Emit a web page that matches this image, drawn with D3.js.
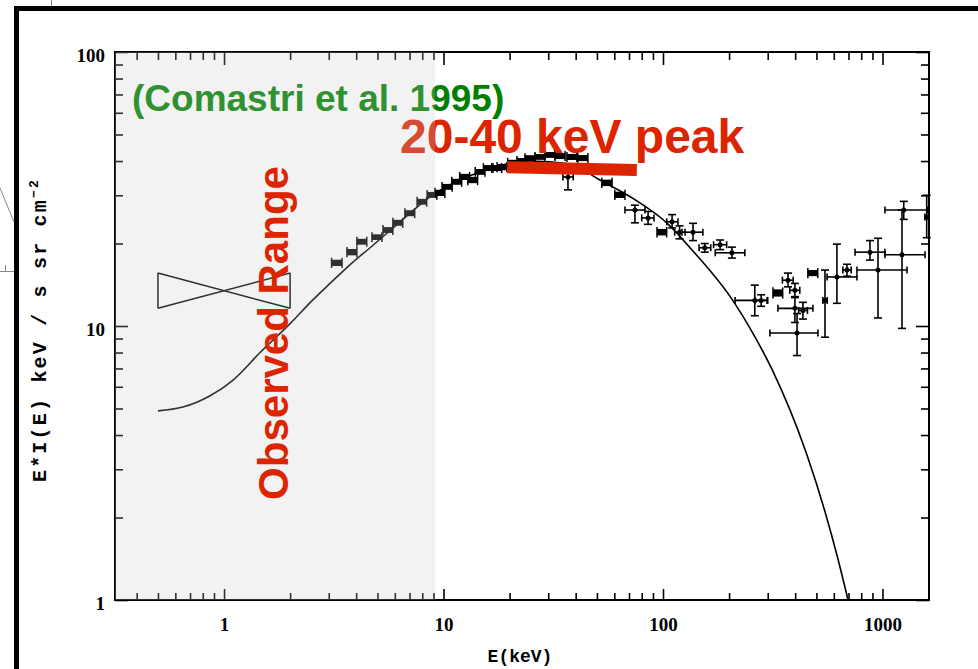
<!DOCTYPE html>
<html>
<head>
<meta charset="utf-8">
<script src="https://cdn.jsdelivr.net/npm/d3@7"></script>
<style>
  body { margin: 0; background: #fff; }
</style>
</head>
<body>
<svg id="chart" width="978" height="669"></svg>
<script>
(function() {
  const INK = "#000";
  const RED = "#dc2400";
  const GREEN = "#008000";

  // model spectrum: energy (keV) and E*I(E)
  const modelE = [0.5, 0.65, 0.86, 1.10, 1.46, 2.0, 2.5, 3.04, 3.8, 4.63, 6.34, 8.68, 14.6, 24.8, 37.6, 51.6, 78.7, 104, 136, 208, 257, 315, 450, 550, 620, 697];
  const modelV = [4.9, 5.06, 5.55, 6.35, 8.0, 10.2, 12.3, 14.3, 16.9, 19.3, 24.0, 29.6, 36.5, 40.0, 39.0, 34.1, 28.1, 23.8, 18.9, 12.4, 9.4, 6.9, 3.43, 2.07, 1.46, 1.0];

  // soft X-ray bowtie
  const bowtieE = [0.5, 2.0];
  const bowtieTop = [15.6, 15.6];
  const bowtieBottom = [11.6, 11.6];

  // HEAO-like boxes: E, dE, value, dValue
  const boxE    = [3.27, 3.83, 4.25, 4.98, 5.59, 6.2, 7.03, 7.98, 8.87, 9.64, 10.4, 11.5, 12.5, 13.6, 14.7, 16.0, 17.5, 18.5, 20.7, 22.8, 24.8, 27.5, 30.6, 34.0, 38.5, 43.2, 55.6, 63.7, 98.9, 334, 482];
  const boxEerr = [0.18, 0.2, 0.22, 0.26, 0.29, 0.32, 0.36, 0.4, 0.45, 0.5, 0.55, 0.6, 0.65, 0.7, 0.75, 0.8, 0.9, 0.95, 1.1, 1.2, 1.3, 1.4, 1.6, 1.8, 2.0, 2.3, 3.0, 3.4, 5, 17, 25];
  const boxV    = [17.0, 18.6, 20.3, 21.1, 22.4, 23.8, 25.8, 28.4, 30.1, 30.6, 32.2, 33.6, 35.0, 34.1, 36.5, 37.7, 37.7, 38.0, 39.4, 40.0, 41.0, 41.4, 42.1, 41.7, 41.4, 41.0, 33.3, 30.1, 22.0, 13.2, 15.6];
  const boxVerr = [0.45, 0.5, 0.5, 0.5, 0.55, 0.6, 0.65, 0.7, 0.75, 0.8, 0.8, 0.85, 0.9, 0.9, 0.9, 0.95, 0.95, 1.0, 1.0, 1.0, 1.0, 1.0, 1.05, 1.05, 1.05, 1.05, 0.9, 0.8, 0.6, 0.4, 0.4];

  // points with error bars
  const crossE   = [36.9, 74.5, 85.5, 110, 119, 137, 155, 182, 206, 262, 280, 371, 399, 399, 434, 408, 547, 620, 689, 877, 954, 1227, 1250, 1590];
  const crossElo = [35, 67.1, 80, 104, 113, 122, 146, 170, 173, 213, 262, 350, 378, 334, 415, 307, 535, 559, 660, 750, 765, 1026, 1026, 1560];
  const crossEhi = [39, 82.8, 91, 117, 126, 152, 165, 195, 236, 298, 300, 392, 420, 482, 455, 508, 560, 765, 720, 1026, 1294, 1563, 1600, 1620];
  const crossV   = [35.0, 26.5, 24.8, 24.0, 22.0, 22.0, 19.3, 19.8, 18.5, 12.4, 12.4, 14.7, 13.5, 11.6, 11.4, 9.43, 12.4, 15.1, 16.0, 18.6, 16.0, 18.2, 26.5, 25.0];
  const crossVlo = [31.4, 23.8, 23.5, 22.8, 20.8, 20.5, 18.6, 19.0, 17.7, 10.9, 11.8, 13.9, 12.8, 10.3, 10.6, 7.8, 9.1, 12.1, 15.2, 17.4, 10.7, 9.8, 24.5, 21.0];
  const crossVhi = [37.1, 27.6, 26.2, 25.5, 23.2, 23.7, 20.0, 20.6, 19.4, 14.1, 13.0, 15.6, 14.3, 12.7, 12.2, 11.1, 16.0, 19.9, 16.8, 20.5, 20.9, 26.5, 28.5, 30.0];

  // axis ticks and labels
  const xMajor = [1, 10, 100, 1000];
  const yMajor = [1, 10, 100];
  const xDomain = [0.3186, 1629];
  const yDomain = [1, 100];

  // annotations
  const observedE = [0.3186, 9.15];
  const peakE = [19.5, 76];
  const peakV = [38.0, 37.1];

  const svg = d3.select("#chart");
  svg.append("rect").attr("width", 978).attr("height", 669).attr("fill", "#fff");

  // slide frame and stray lines
  svg.append("rect")
    .attr("x", 16.5).attr("y", 8.5)
    .attr("width", 1000).attr("height", 700)
    .attr("fill", "none").attr("stroke", INK).attr("stroke-width", 5);
  const stray = svg.append("g").attr("stroke", "#888").attr("stroke-width", 1).attr("fill", "none");
  stray.append("path").attr("d", "M51.5,0V6");
  stray.append("path").attr("d", "M0,188L14,222");
  stray.append("path").attr("d", "M0,271.5H14M5.5,265V271");

  const x = d3.scaleLog().domain(xDomain).range([115, 929]);
  const y = d3.scaleLog().domain(yDomain).range([600, 52]);

  const g = svg.append("g");

  const xMinor = x.ticks().filter(d => !xMajor.some(m => Math.abs(m - d) < 1e-9));
  const yMinor = y.ticks().filter(d => !yMajor.some(m => Math.abs(m - d) < 1e-9));

  function styleAxis(sel) {
    sel.select(".domain").remove();
    sel.selectAll("line").attr("stroke", INK).attr("stroke-width", 1.6);
    sel.selectAll("text")
      .attr("font-family", "Liberation Serif, serif")
      .attr("font-weight", "bold")
      .attr("font-size", 19)
      .attr("fill", INK);
  }

  // bottom
  g.append("g").attr("transform", "translate(0,600)")
    .call(d3.axisBottom(x).tickValues(xMinor).tickSize(-7).tickFormat(""))
    .call(styleAxis);
  g.append("g").attr("transform", "translate(0,600)")
    .call(d3.axisBottom(x).tickValues(xMajor).tickSize(-11).tickPadding(18).tickFormat(d3.format("d")))
    .call(styleAxis);
  // top
  g.append("g").attr("transform", "translate(0,52)")
    .call(d3.axisTop(x).tickValues(xMinor).tickSize(-8).tickFormat(""))
    .call(styleAxis);
  g.append("g").attr("transform", "translate(0,52)")
    .call(d3.axisTop(x).tickValues(xMajor).tickSize(-13).tickFormat(""))
    .call(styleAxis);
  // left
  g.append("g").attr("transform", "translate(115,0)")
    .call(d3.axisLeft(y).tickValues(yMinor).tickSize(-8).tickFormat(""))
    .call(styleAxis);
  const yAx = g.append("g").attr("transform", "translate(115,0)")
    .call(d3.axisLeft(y).tickValues(yMajor).tickSize(-13).tickPadding(10).tickFormat(d3.format("d")))
    .call(styleAxis);
  yAx.selectAll("text").attr("dy", "0.48em");
  // right
  g.append("g").attr("transform", "translate(929,0)")
    .call(d3.axisRight(y).tickValues(yMinor).tickSize(-8).tickFormat(""))
    .call(styleAxis);
  g.append("g").attr("transform", "translate(929,0)")
    .call(d3.axisRight(y).tickValues(yMajor).tickSize(-13).tickFormat(""))
    .call(styleAxis);

  // frame
  g.append("rect")
    .attr("x", x(xDomain[0])).attr("y", y(yDomain[1]))
    .attr("width", x(xDomain[1]) - x(xDomain[0]))
    .attr("height", y(yDomain[0]) - y(yDomain[1]))
    .attr("fill", "none").attr("stroke", INK).attr("stroke-width", 2);

  // axis titles
  g.append("text")
    .attr("x", 520).attr("y", 662)
    .attr("text-anchor", "middle")
    .attr("font-family", "Liberation Mono, monospace")
    .attr("font-weight", "bold")
    .attr("font-size", 18)
    .attr("fill", INK)
    .text("E(keV)");

  const yt = g.append("text")
    .attr("transform", "translate(46,330) rotate(-90)")
    .attr("text-anchor", "middle")
    .attr("font-family", "Liberation Mono, monospace")
    .attr("font-weight", "bold")
    .attr("font-size", 20)
    .attr("letter-spacing", 2.2)
    .attr("fill", INK);
  yt.append("tspan").text("E*I(E) keV / s sr cm");
  yt.append("tspan").attr("dy", -8).attr("font-size", 13).text("\u22122");

  // model curve
  const model = modelE.map((e, i) => [e, modelV[i]]);
  g.append("path")
    .datum(model)
    .attr("fill", "none")
    .attr("stroke", INK)
    .attr("stroke-width", 1.6)
    .attr("d", d3.line().x(d => x(d[0])).y(d => y(d[1])).curve(d3.curveMonotoneX));

  // bowtie
  const bt = [
    [[bowtieE[0], bowtieTop[0]], [bowtieE[0], bowtieBottom[0]]],
    [[bowtieE[1], bowtieTop[1]], [bowtieE[1], bowtieBottom[1]]],
    [[bowtieE[0], bowtieTop[0]], [bowtieE[1], bowtieBottom[1]]],
    [[bowtieE[0], bowtieBottom[0]], [bowtieE[1], bowtieTop[1]]]
  ];
  g.selectAll(".bowtie")
    .data(bt)
    .join("line")
    .attr("class", "bowtie")
    .attr("x1", d => x(d[0][0])).attr("y1", d => y(d[0][1]))
    .attr("x2", d => x(d[1][0])).attr("y2", d => y(d[1][1]))
    .attr("stroke", INK).attr("stroke-width", 1.5);

  // boxes
  const boxes = boxE.map((e, i) => ({ e, de: boxEerr[i], v: boxV[i], dv: boxVerr[i] }));
  const bg = g.append("g").attr("fill", INK).attr("stroke", INK).attr("stroke-width", 1.5);
  boxes.forEach(d => {
    const x0 = x(d.e - d.de), x1 = x(d.e + d.de);
    const yc = y(d.v);
    const h = Math.max(y(d.v - d.dv) - y(d.v + d.dv), 5);
    bg.append("rect")
      .attr("x", x0).attr("y", yc - h / 2)
      .attr("width", x1 - x0).attr("height", h)
      .attr("stroke", "none");
    bg.append("line").attr("x1", x0).attr("x2", x0).attr("y1", yc - h / 2 - 2).attr("y2", yc + h / 2 + 2);
    bg.append("line").attr("x1", x1).attr("x2", x1).attr("y1", yc - h / 2 - 2).attr("y2", yc + h / 2 + 2);
  });

  // error-bar points
  const crosses = crossE.map((e, i) => ({
    e, elo: crossElo[i], ehi: crossEhi[i], v: crossV[i], vlo: crossVlo[i], vhi: crossVhi[i]
  }));
  const cg = g.append("g").attr("stroke", INK).attr("stroke-width", 1.6).attr("fill", INK);
  crosses.forEach(d => {
    const cx = x(d.e), cy = y(d.v);
    const xa = x(d.elo), xb = x(d.ehi), ya = y(d.vlo), yb = y(d.vhi);
    cg.append("line").attr("x1", xa).attr("x2", xb).attr("y1", cy).attr("y2", cy);
    cg.append("line").attr("x1", cx).attr("x2", cx).attr("y1", ya).attr("y2", yb);
    cg.append("line").attr("x1", xa).attr("x2", xa).attr("y1", cy - 3.5).attr("y2", cy + 3.5);
    cg.append("line").attr("x1", xb).attr("x2", xb).attr("y1", cy - 3.5).attr("y2", cy + 3.5);
    cg.append("line").attr("x1", cx - 4).attr("x2", cx + 4).attr("y1", ya).attr("y2", ya);
    cg.append("line").attr("x1", cx - 4).attr("x2", cx + 4).attr("y1", yb).attr("y2", yb);
    cg.append("circle").attr("cx", cx).attr("cy", cy).attr("r", 2.5).attr("stroke", "none");
  });

  // annotation texts under the shading
  g.append("text")
    .attr("x", 132).attr("y", 111)
    .attr("font-family", "Liberation Sans, Arial, sans-serif")
    .attr("font-weight", "bold")
    .attr("font-size", 37)
    .attr("fill", GREEN)
    .text("(Comastri et al. 1995)");

  g.append("text")
    .attr("x", 400).attr("y", 153)
    .attr("font-family", "Liberation Sans, Arial, sans-serif")
    .attr("font-weight", "bold")
    .attr("font-size", 48)
    .attr("fill", RED)
    .text("20-40 keV peak");

  // observed range shading
  g.append("rect")
    .attr("x", x(observedE[0])).attr("y", y(yDomain[1]))
    .attr("width", x(observedE[1]) - x(observedE[0]))
    .attr("height", y(yDomain[0]) - y(yDomain[1]))
    .attr("fill", "#c8c8c8")
    .attr("opacity", 0.24);

  g.append("text")
    .attr("transform", "translate(288,333) rotate(-90)")
    .attr("text-anchor", "middle")
    .attr("font-family", "Liberation Sans, Arial, sans-serif")
    .attr("font-weight", "bold")
    .attr("font-size", 42)
    .attr("fill", RED)
    .text("Observed Range");

  // peak bar
  g.append("line")
    .attr("x1", x(peakE[0])).attr("y1", y(peakV[0]))
    .attr("x2", x(peakE[1])).attr("y2", y(peakV[1]))
    .attr("stroke", RED)
    .attr("stroke-width", 12);
})();
</script>
</body>
</html>
